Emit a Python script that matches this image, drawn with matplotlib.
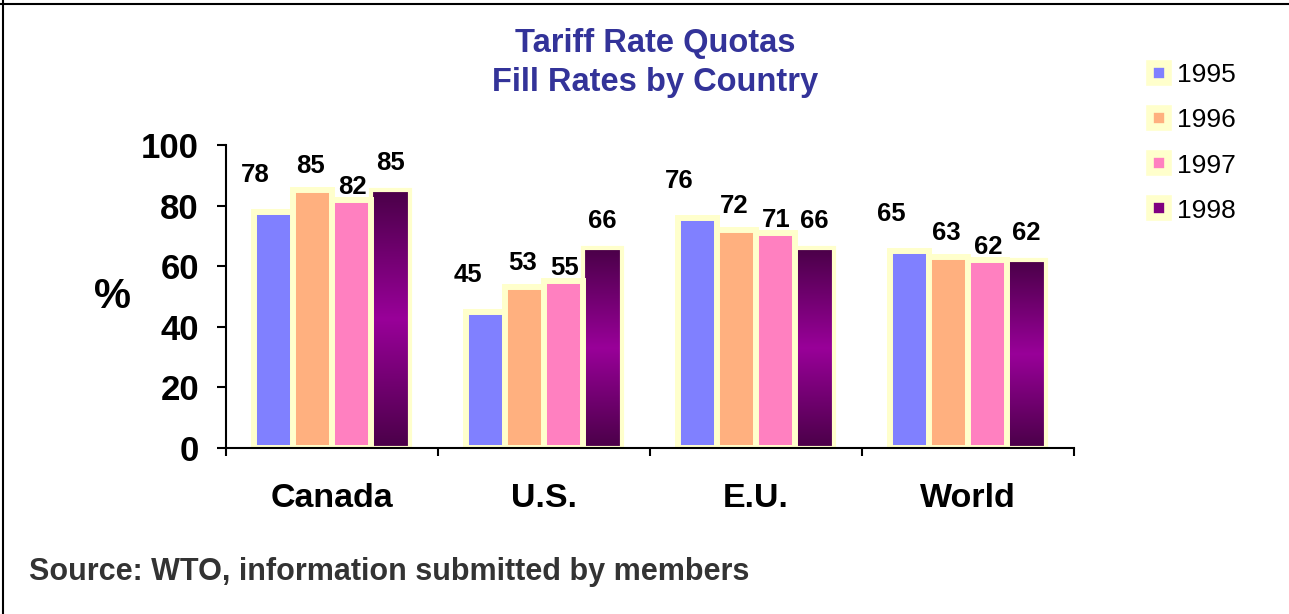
import matplotlib
matplotlib.use("Agg")
import matplotlib.pyplot as plt
import numpy as np
from matplotlib.colors import LinearSegmentedColormap
from matplotlib.lines import Line2D

plt.rcParams['font.family'] = ['Liberation Sans', 'DejaVu Sans']

# data
countries = ['Canada', 'U.S.', 'E.U.', 'World']
years = ['1995', '1996', '1997', '1998']
fill_1995 = [78, 45, 76, 65]
fill_1996 = [85, 53, 72, 63]
fill_1997 = [82, 55, 71, 62]
fill_1998 = [85, 66, 66, 62]
yticks = [0, 20, 40, 60, 80, 100]

series = [fill_1995, fill_1996, fill_1997, fill_1998]
colors = ['#8080FF', '#FFB07F', '#FF80C0', '#800080']
glow = '#FFFFCC'
# label offsets (pixels) per series, as placed in the original
lab_dx = [-18, -2, 1, 0]
lab_dy = [37, 24, 13, 27]

fig = plt.figure(figsize=(12.89, 6.14), dpi=100)
ax = fig.add_axes([226 / 1289, 1 - 448 / 614, 848 / 1289, 303 / 614])

x = np.arange(len(countries)) + 0.5
step = 0.184
purple = LinearSegmentedColormap.from_list('p98', ['#4A0048', '#990099', '#4A0048'])

for i, vals in enumerate(series):
    pos = x + (i - 1.5) * step
    if i == 3:
        bars = ax.bar(pos, vals, width=step, facecolor='none', edgecolor=glow,
                      linewidth=3.0, zorder=2)
        for b in bars:
            x0, w, h = b.get_x(), b.get_width(), b.get_height()
            ax.imshow(np.linspace(0, 1, 256).reshape(-1, 1), cmap=purple,
                      extent=[x0, x0 + w, 0, h], aspect='auto', origin='lower',
                      zorder=1.5)
    else:
        bars = ax.bar(pos, vals, width=step, color=colors[i], edgecolor=glow,
                      linewidth=4.3, zorder=2)
    for p, v in zip(pos, vals):
        ax.annotate(str(v), xy=(p, v), xytext=(lab_dx[i], lab_dy[i]),
                    textcoords='offset pixels', ha='center', va='center',
                    fontsize=18.5, fontweight='bold', annotation_clip=False)

ax.set_xlim(0, 4)
ax.set_ylim(0, 100)
ax.set_yticks(yticks)
ax.set_yticklabels([str(t) for t in yticks], fontsize=25, fontweight='bold')
ax.set_xticks([0, 1, 2, 3, 4])
ax.set_xticklabels([])
ax.set_xticks(x, minor=True)
ax.set_xticklabels(countries, minor=True, fontsize=24.5, fontweight='bold')
ax.tick_params(axis='x', which='major', direction='out', length=6, width=1.5)
ax.tick_params(axis='x', which='minor', length=0, pad=25)
ax.tick_params(axis='y', direction='out', length=6.5, width=1.5, pad=13)
for s in ['top', 'right']:
    ax.spines[s].set_visible(False)
for s in ['left', 'bottom']:
    ax.spines[s].set_linewidth(1.5)

ax.set_ylabel('%', rotation=0, fontsize=30, fontweight='bold', ha='center', va='center')
ax.yaxis.set_label_coords(-0.1333, 0.50)

fig.text(655 / 1289, 1 - 28 / 614, 'Tariff Rate Quotas\nFill Rates by Country',
         ha='center', va='top', fontsize=23.5, fontweight='bold', color='#333399',
         linespacing=1.33)

handles = [Line2D([], [], marker='s', ls='', ms=12.5, mfc=c, mec=glow, mew=5.5)
           for c in colors]
fig.legend(handles, years, loc='center left', bbox_to_anchor=(1148 / 1289, 1 - 143 / 614),
           bbox_transform=fig.transFigure, frameon=False, fontsize=19,
           handlelength=0.8, handletextpad=0.3, labelspacing=0.8,
           borderpad=0, borderaxespad=0)

fig.text(29 / 1289, 1 - 572 / 614, 'Source: WTO, information submitted by members',
         ha='left', va='center', fontsize=22, fontweight='bold', color='#333333')

# frame lines
fig.add_artist(Line2D([0, 1], [1 - 4 / 614, 1 - 4 / 614], color='black', lw=1.5,
                      transform=fig.transFigure))
fig.add_artist(Line2D([3 / 1289, 3 / 1289], [0, 1], color='black', lw=1.5,
                      transform=fig.transFigure))

fig.savefig('out.png', dpi=100)
